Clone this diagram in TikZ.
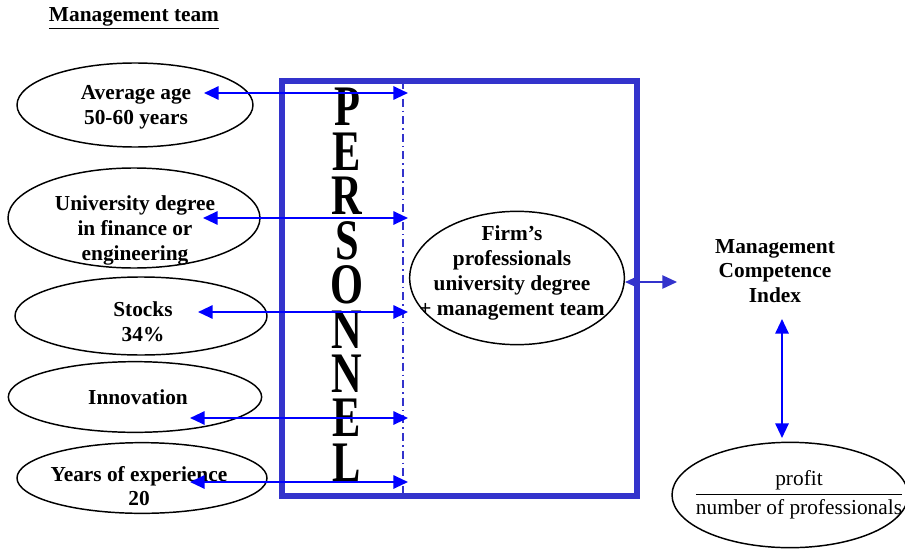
\documentclass[tikz,border=0pt]{standalone}
\usepackage{fontspec}
\setmainfont{Liberation Serif}
\usetikzlibrary{arrows.meta,shapes.geometric}
\definecolor{boxblue}{RGB}{51,51,204}

\begin{document}
\begin{tikzpicture}[x=0.75pt,y=-0.75pt,
	oval/.style={ellipse,draw,line width=1.1pt,inner sep=0pt},
	lbl/.style={align=center,font=\fontsize{16}{18.5}\selectfont\bfseries},
	link/.style={{Triangle[length=11pt,width=10pt]}-{Triangle[length=11pt,width=10pt]},blue,line width=1.5pt},
	letter/.style={font=\fontsize{43}{43}\selectfont\bfseries,xscale=0.74,anchor=base,inner sep=0pt}]
	\useasboundingbox (0,0) rectangle (905,549);

	\node[lbl] (title) at (134,18) {\underline{Management team}};

	% left ovals
	\node[oval,minimum width=177pt,minimum height=63pt] (avg) at (135,105) {};
	\node[oval,minimum width=189pt,minimum height=75pt] (uni) at (134,218) {};
	\node[oval,minimum width=189pt,minimum height=58.5pt] (stk) at (141,316) {};
	\node[oval,minimum width=190pt,minimum height=53pt] (inn) at (135,397) {};
	\node[oval,minimum width=187.5pt,minimum height=53pt] (exp) at (142,478) {};
	\node[lbl] (avgtxt) at (136,107) {Average age\\50-60 years};
	\node[lbl] (unitxt) at (135,230.5) {University degree\\in finance or\\engineering};
	\node[lbl] (stktxt) at (143,322) {Stocks\\34\%};
	\node[lbl] (inntxt) at (138,397) {Innovation};
	\node[lbl] (exptxt) at (139,486) {Years of experience\\20};

	% personnel box
	\draw[boxblue,line width=4.5pt] (281.5,81) rectangle (637,496);
	\draw[boxblue,line width=1.1pt,dash pattern=on 6pt off 3pt on 1.2pt off 3pt] (403,81) -- (403,496);
	\foreach \ch [count=\i from 0] in {P,E,R,S,O,N,N,E,L}
		\node[letter] (l\i) at (347,{126+44.4*\i}) {\ch};

	\node[oval,minimum width=161pt,minimum height=100pt] (firm) at (517,278) {};
	\node[lbl,font=\fontsize{16}{18.75}\selectfont\bfseries] (firmtxt) at (512,273) {Firm’s\\professionals\\university degree\\+ management team};

	\node[lbl] (mci) at (775,271) {Management\\Competence\\Index};
	\node[oval,minimum width=177pt,minimum height=79pt] (ratio) at (790,495) {};
	\node[font=\fontsize{16}{18.5}\selectfont] (ratiotxt) at (799,494)
		{\renewcommand\arraystretch{1.15}\begin{tabular}{@{}c@{}}profit\\\hline number of professionals\end{tabular}};

	% arrow ends
	\coordinate (a1) at (204,93);  \coordinate (d1) at (408,93);
	\coordinate (a2) at (203,218); \coordinate (d2) at (408,218);
	\coordinate (a3) at (198,312); \coordinate (d3) at (408,312);
	\coordinate (a4) at (190,418); \coordinate (d4) at (408,418);
	\coordinate (a5) at (190,482); \coordinate (d5) at (408,482);
	\coordinate (fo) at (677,282);
	\coordinate (v1) at (782,319);
	\coordinate (v2) at (782,438);

	\path[link]
		(a1) edge (d1)
		(a2) edge (d2)
		(a3) edge (d3)
		(a4) edge (d4)
		(a5) edge (d5)
		(v1) edge (v2);
	\draw[link,boxblue,line width=1.1pt] (firm.east |- fo) -- (fo);
\end{tikzpicture}
\end{document}
